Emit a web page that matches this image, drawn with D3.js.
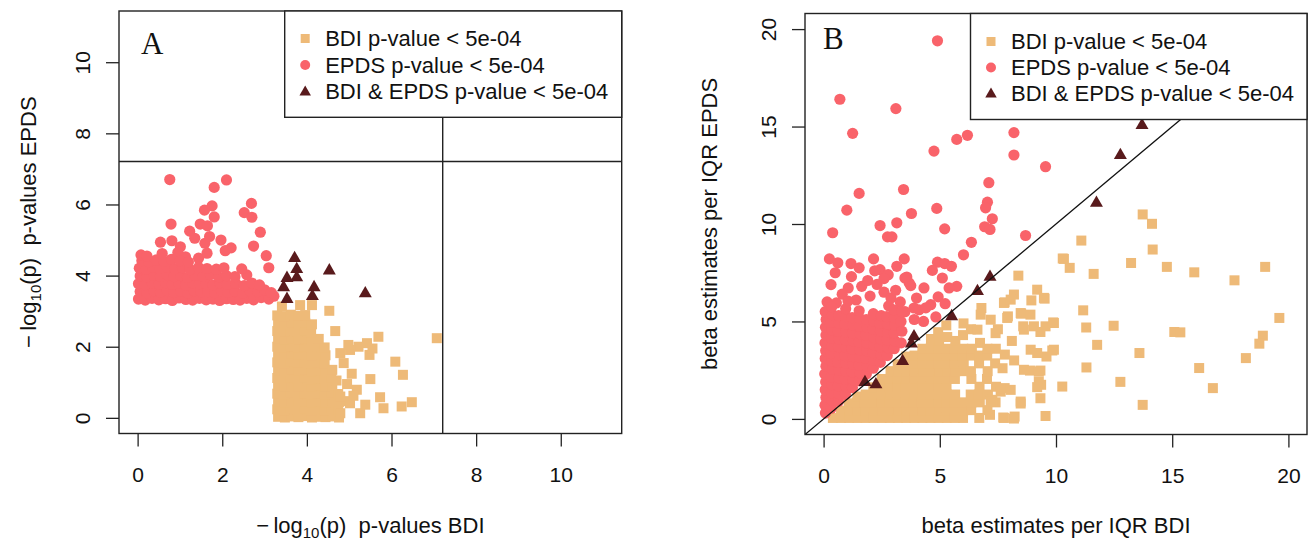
<!DOCTYPE html>
<html><head><meta charset="utf-8">
<script src="https://cdn.jsdelivr.net/npm/d3@7"></script>
<style>
body{margin:0;background:#fff}
svg{display:block}
text{fill:#111}
</style>
</head><body>
<svg id="c" width="1309" height="540"></svg>
<script>
// ---------- DATA ----------
const legendLabels = ["BDI p-value < 5e-04", "EPDS p-value < 5e-04", "BDI & EPDS p-value < 5e-04"];
const ticksA = [0, 2, 4, 6, 8, 10];
const ticksB = [0, 5, 10, 15, 20];
const thresholdA = 7.21;

// Panel A: [-log10 p BDI, -log10 p EPDS]
const epdsA = [
[0.76,6.70],[2.10,6.69],[1.81,6.48],[2.69,6.03],[1.76,5.96],[1.58,5.84],[1.81,5.65],[2.52,5.77],[2.70,5.64],[1.48,5.45],
[0.79,5.45],[1.23,5.25],[2.90,5.22],[0.54,4.94],[0.81,4.98],[1.59,4.91],[1.97,5.00],[2.74,4.83],[2.21,4.78],[2.07,4.70],
[3.04,4.56],[1.44,4.49],[1.64,4.63],[3.10,4.22],[1.01,4.81],[1.13,4.53],[1.35,5.05],[1.65,5.40],[1.70,5.10],[0.95,4.65],
[0.02,3.34],[0.18,3.31],[0.34,3.36],[0.50,3.32],[0.66,3.35],[0.82,3.30],[0.98,3.37],[1.14,3.33],[1.30,3.31],[1.46,3.36],
[1.62,3.32],[1.78,3.34],[1.94,3.30],[2.10,3.35],[2.26,3.33],[2.42,3.31],[2.58,3.36],[2.74,3.32],[2.92,3.38],[3.10,3.34],[3.22,3.42],
[0.06,3.55],[0.22,3.52],[0.38,3.57],[0.54,3.54],[0.70,3.58],[0.86,3.53],[1.02,3.56],[1.18,3.51],[1.34,3.57],[1.50,3.54],
[1.66,3.55],[1.82,3.52],[1.98,3.58],[2.14,3.53],[2.30,3.56],[2.48,3.51],[2.66,3.57],[2.84,3.55],[3.00,3.60],[3.16,3.52],
[0.02,3.77],[0.18,3.74],[0.34,3.79],[0.50,3.76],[0.66,3.80],[0.82,3.75],[0.98,3.78],[1.14,3.73],[1.30,3.79],[1.46,3.76],
[1.62,3.77],[1.78,3.74],[1.94,3.80],[2.12,3.75],[2.32,3.78],[2.52,3.72],[2.70,3.79],[2.88,3.74],
[0.06,3.99],[0.22,3.96],[0.38,4.01],[0.54,3.98],[0.70,4.02],[0.86,3.97],[1.02,4.00],[1.18,3.95],[1.36,4.01],[1.54,3.98],
[1.72,4.03],[1.92,3.96],[2.10,4.00],[2.30,3.97],[2.58,4.02],
[0.04,4.21],[0.20,4.18],[0.36,4.23],[0.52,4.20],[0.70,4.24],[0.88,4.19],[1.06,4.22],[1.24,4.17],[1.44,4.23],[1.64,4.20],
[1.86,4.18],[2.04,4.22],[2.46,4.19],
[0.10,4.42],[0.26,4.39],[0.44,4.44],[0.62,4.40],[0.80,4.46],[1.00,4.41],[1.20,4.38],
[0.08,4.58],[0.22,4.55],[0.58,4.62]
];
const bdiA = [
[3.32,0.03],[3.48,0.01],[3.64,0.04],[3.80,0.02],[3.96,0.05],[4.12,0.01],[4.28,0.03],[4.44,0.02],[4.60,0.04],[4.76,0.01],
[3.30,0.24],[3.46,0.22],[3.62,0.26],[3.78,0.23],[3.94,0.25],[4.10,0.21],[4.26,0.24],[4.42,0.22],[4.58,0.26],[4.74,0.23],
[3.32,0.46],[3.48,0.44],[3.64,0.48],[3.80,0.45],[3.96,0.47],[4.12,0.43],[4.28,0.46],[4.44,0.44],[4.60,0.48],[4.76,0.45],[4.92,0.47],
[3.30,0.68],[3.46,0.66],[3.62,0.70],[3.78,0.67],[3.94,0.69],[4.10,0.65],[4.26,0.68],[4.42,0.66],[4.58,0.70],[4.74,0.67],
[3.32,0.90],[3.48,0.88],[3.64,0.92],[3.80,0.89],[3.96,0.91],[4.12,0.87],[4.28,0.90],[4.44,0.88],[4.60,0.92],
[3.30,1.12],[3.46,1.10],[3.62,1.14],[3.78,1.11],[3.94,1.13],[4.10,1.09],[4.26,1.12],[4.42,1.10],[4.58,1.14],
[3.32,1.34],[3.48,1.32],[3.64,1.36],[3.80,1.33],[3.96,1.35],[4.12,1.31],[4.28,1.34],[4.44,1.32],
[3.30,1.56],[3.46,1.54],[3.62,1.58],[3.78,1.55],[3.94,1.57],[4.10,1.53],[4.26,1.56],[4.42,1.54],
[3.32,1.78],[3.48,1.76],[3.64,1.80],[3.80,1.77],[3.96,1.79],[4.12,1.75],[4.28,1.78],[4.44,1.76],
[3.30,2.00],[3.46,1.98],[3.62,2.02],[3.78,1.99],[3.94,2.01],[4.10,1.97],[4.26,2.00],[4.42,1.98],
[3.32,2.22],[3.48,2.20],[3.64,2.24],[3.80,2.21],[3.96,2.23],[4.12,2.19],[4.28,2.22],
[3.30,2.44],[3.46,2.42],[3.62,2.46],[3.78,2.43],[3.94,2.45],[4.10,2.41],
[3.32,2.66],[3.48,2.64],[3.64,2.68],[3.80,2.65],[3.96,2.67],[4.12,2.63],
[3.30,2.88],[3.46,2.86],[3.62,2.90],[3.80,2.87],[3.96,2.89],
[7.07,2.24],[5.69,2.28],[6.09,1.58],[6.27,1.21],[5.50,1.09],[5.73,0.58],[5.81,0.27],[6.48,0.44],[6.24,0.32],[5.26,0.13],
[5.38,0.37],[5.06,1.24],[4.53,3.01],[4.67,2.44],[5.42,2.10],[5.22,2.00],[5.48,1.77],[4.79,1.82],[5.02,1.91],[4.87,1.54],
[5.18,0.79],[4.79,0.60],[5.02,0.41],[4.79,0.13],[3.41,3.13],[3.84,3.17],[4.12,3.17],[4.98,2.05],[5.55,1.95],[4.95,0.95],
[5.10,0.62],[4.60,1.35],[4.70,1.05]
];
const bothA = [
[3.71,4.51],[3.76,4.20],[3.76,3.97],[3.53,3.95],[3.45,3.69],[4.53,4.16],[4.17,3.69],[4.13,3.44],[3.53,3.36],[5.38,3.52]
];

// Panel B: [beta per IQR BDI, beta per IQR EPDS]
const epdsB = [
[4.90,19.40],[0.70,16.40],[3.11,15.92],[1.25,14.65],[4.75,13.74],[5.73,14.34],[6.19,14.55],[8.19,14.69],[8.19,13.54],[9.55,12.94],
[7.11,12.12],[3.44,11.77],[1.53,11.57],[7.05,11.12],[6.97,10.83],[1.00,10.71],[3.78,10.54],[4.87,10.80],[7.26,10.27],[3.15,10.06],
[2.43,9.92],[5.21,9.75],[2.75,9.34],[2.94,9.34],[6.93,9.86],[7.16,9.72],[0.39,9.55],[8.69,9.41],[6.36,9.06],[6.02,8.42],
[0.25,8.21],[0.61,8.01],[1.18,7.97],[1.53,7.75],[2.15,8.21],[2.43,7.66],[2.78,7.40],[3.15,7.83],[3.47,8.21],[3.58,7.28],
[3.68,6.98],[4.90,8.04],[5.21,7.97],[5.50,7.83],[4.68,7.62],[5.11,7.23],[5.73,6.80],[5.40,6.72],[4.32,6.72],[0.32,6.89],
[1.06,6.72],[1.64,6.80],[4.93,6.26],[5.23,5.91],[4.61,5.86],[3.89,5.69],[4.11,5.60],[4.83,5.23],[3.75,6.84],[3.50,7.23],
[1.90,7.10],[2.30,6.90],[2.60,6.50],[2.00,6.30],[1.40,6.10],[2.90,6.20],[3.30,6.00],[3.10,6.60],[0.80,6.40],[1.20,7.30],
[2.80,5.80],[3.50,5.50],[3.90,5.10],[4.30,5.00],[0.50,7.50],[2.20,7.60],[2.60,7.20],[4.00,6.20],[4.40,5.70],[0.15,6.00],[0.55,5.95],[1.05,6.05],
[0.08,0.30],[0.06,0.70],[0.10,1.10],[0.07,1.50],[0.09,1.90],[0.05,2.30],[0.10,2.70],[0.07,3.10],[0.09,3.50],[0.06,3.90],[0.10,4.30],[0.08,4.70],[0.11,5.10],[0.07,5.50],
[0.33,0.55],[0.37,0.95],[0.34,1.35],[0.36,1.75],[0.32,2.15],[0.38,2.55],[0.35,2.95],[0.33,3.35],[0.37,3.75],[0.34,4.15],[0.36,4.55],[0.32,4.95],[0.38,5.35],[0.35,5.75],
[0.64,0.90],[0.66,1.30],[0.63,1.70],[0.67,2.10],[0.65,2.50],[0.62,2.90],[0.68,3.30],[0.64,3.70],[0.66,4.10],[0.63,4.50],[0.67,4.90],[0.65,5.30],
[0.94,1.25],[0.97,1.65],[0.93,2.05],[0.96,2.45],[0.95,2.85],[0.92,3.25],[0.98,3.65],[0.94,4.05],[0.96,4.45],[0.93,4.85],[0.97,5.25],[0.95,5.65],
[1.24,1.60],[1.27,2.00],[1.23,2.40],[1.26,2.80],[1.25,3.20],[1.22,3.60],[1.28,4.00],[1.24,4.40],[1.26,4.80],[1.23,5.20],
[1.54,1.95],[1.57,2.35],[1.53,2.75],[1.56,3.15],[1.55,3.55],[1.52,3.95],[1.58,4.35],[1.54,4.75],[1.56,5.15],[1.53,5.55],
[1.84,2.30],[1.87,2.70],[1.83,3.10],[1.86,3.50],[1.85,3.90],[1.82,4.30],[1.88,4.70],[1.84,5.10],
[2.14,2.60],[2.17,3.00],[2.13,3.40],[2.16,3.80],[2.15,4.20],[2.12,4.60],[2.18,5.00],[2.14,5.40],
[2.44,2.90],[2.47,3.30],[2.43,3.70],[2.46,4.10],[2.45,4.50],[2.42,4.90],[2.48,5.30],
[2.74,3.25],[2.77,3.65],[2.73,4.05],[2.76,4.45],[2.75,4.85],[2.72,5.25],
[3.04,3.60],[3.07,4.00],[3.03,4.40],[3.06,4.80],[3.05,5.20],[3.02,5.60],
[3.34,3.90],[3.37,4.50],[3.33,5.00],[3.36,5.50]
];
const bdiB = [
[0.40,0.05],[0.75,0.05],[0.75,0.42],[1.10,0.05],[1.12,0.45],[1.08,0.80],
[1.45,0.05],[1.47,0.45],[1.43,0.85],[1.46,1.15],[1.80,0.05],[1.82,0.45],[1.78,0.85],[1.81,1.25],
[2.15,0.05],[2.17,0.45],[2.13,0.85],[2.16,1.25],[2.14,1.62],
[2.50,0.05],[2.52,0.45],[2.48,0.85],[2.51,1.25],[2.49,1.65],[2.50,2.05],
[2.85,0.05],[2.87,0.45],[2.83,0.85],[2.86,1.25],[2.84,1.65],[2.85,2.05],[2.88,2.45],
[3.20,0.05],[3.22,0.45],[3.18,0.85],[3.21,1.25],[3.19,1.65],[3.20,2.05],[3.23,2.45],[3.19,2.80],
[3.55,0.05],[3.57,0.45],[3.53,0.85],[3.56,1.25],[3.54,1.65],[3.55,2.05],[3.58,2.45],[3.54,2.85],[3.56,3.20],
[3.90,0.05],[3.92,0.45],[3.88,0.85],[3.91,1.25],[3.89,1.65],[3.90,2.05],[3.93,2.45],[3.89,2.85],[3.91,3.25],
[4.25,0.05],[4.27,0.45],[4.23,0.85],[4.26,1.25],[4.24,1.65],[4.25,2.05],[4.28,2.45],[4.24,2.85],[4.26,3.25],[4.25,3.60],
[4.60,0.05],[4.62,0.45],[4.58,0.85],[4.61,1.25],[4.59,1.65],[4.60,2.05],[4.63,2.45],[4.59,2.85],[4.61,3.25],[4.60,3.60],[4.62,4.10],
[4.95,0.05],[4.97,0.45],[4.93,0.85],[4.96,1.25],[4.94,1.65],[4.95,2.05],[4.98,2.45],[4.94,2.85],[4.96,3.25],[4.95,3.60],[4.97,4.00],[4.93,4.45],
[5.30,0.05],[5.32,0.45],[5.28,0.85],[5.31,1.25],[5.29,1.65],[5.30,2.05],[5.33,2.45],[5.29,2.85],[5.31,3.25],[5.30,3.60],[5.32,4.20],[5.28,4.80],
[5.65,0.05],[5.67,0.45],[5.63,0.85],[5.66,1.25],[5.65,2.05],[5.68,2.45],[5.64,2.85],[5.66,3.25],[5.65,3.60],[5.67,4.00],
[6.00,0.05],[6.02,0.45],[5.98,0.85],[6.00,2.45],[6.03,2.85],[5.99,3.25],[6.01,3.60],[6.00,4.30],[6.02,4.90],
[6.35,0.45],[6.37,0.85],[6.33,1.25],[6.36,2.05],[6.34,2.45],[6.35,3.25],[6.38,3.60],[6.34,4.60],
[6.70,0.05],[6.72,0.85],[6.68,1.25],[6.71,1.65],[6.69,2.85],[6.70,3.25],[6.73,3.90],
[7.05,0.45],[7.07,1.25],[7.03,2.05],[7.06,2.45],[7.04,3.25],[7.05,3.60],
[7.40,0.85],[7.42,1.65],[7.38,2.85],[7.41,3.60],[7.40,4.40],
[13.73,10.49],[14.13,10.01],[11.09,9.15],[14.16,8.69],[10.29,8.23],[10.59,7.75],[11.62,7.44],[13.23,8.00],[14.77,7.80],[15.95,7.52],
[17.68,7.11],[19.00,7.80],[19.61,5.18],[11.17,5.57],[11.30,4.69],[12.48,4.78],[15.09,4.46],[15.35,4.44],[18.90,4.27],[18.75,3.86],
[11.77,3.80],[13.59,3.38],[18.17,3.12],[11.31,2.64],[16.16,2.61],[12.77,1.90],[10.27,1.66],[16.75,1.58],[13.73,0.72],
[8.38,7.35],[9.55,4.75],[9.88,4.95],[9.33,4.46],[9.19,6.63],[9.51,6.17],[8.94,6.08],[8.19,6.38],[7.79,5.98],[6.79,5.69],
[7.93,5.26],[8.50,5.40],[8.90,5.35],[8.59,4.75],[9.05,4.75],[9.84,3.51],[9.59,3.20],[8.88,2.48],[9.33,2.48],[9.26,1.92],
[9.36,1.75],[9.33,1.06],[8.48,0.89],[9.55,0.15],[8.22,0.12],[7.73,0.07],[7.16,0.21],[7.62,1.40],[7.79,1.58],[7.26,0.98],
[7.76,5.95],[8.05,6.12],[8.48,5.43],[9.48,6.21],[9.91,4.92],[7.90,5.18],[8.62,4.58],[6.76,5.35],[7.19,5.09],[6.62,4.58],
[8.91,3.55],[9.19,3.38],[9.91,3.55],[8.62,2.52],[9.26,2.43],[8.05,1.49],[8.48,0.79],[9.19,1.63],[7.19,0.87],[7.76,0.05],
[8.19,0.02],[7.80,3.30],[8.20,3.00],[7.70,2.60],[8.10,4.00],[7.50,4.60],[10.34,8.21]
];
const bothB = [
[1.78,1.92],[2.25,1.80],[3.40,3.00],[3.78,3.89],[3.89,4.27],[5.51,5.30],[6.62,6.59],[7.16,7.32],[11.74,11.12],[12.77,13.57],[13.70,15.10]
];

// ---------- STYLE ----------
const COL_BDI = "#EEBA78", COL_EPDS = "#F9636A", COL_BOTH = "#591A1C";
const SANS = '"Liberation Sans", Arial, Helvetica, sans-serif';
const SERIF = '"Liberation Serif", "Times New Roman", serif';
const FS = 22, TFS = 21;
const svg = d3.select("#c");

function drawSquares(g, data, x, y, s) {
  g.selectAll(null).data(data).enter().append("rect")
    .attr("x", d => x(d[0]) - s/2).attr("y", d => y(d[1]) - s/2)
    .attr("width", s).attr("height", s).attr("fill", COL_BDI);
}
function drawCircles(g, data, x, y, r) {
  g.selectAll(null).data(data).enter().append("circle")
    .attr("cx", d => x(d[0])).attr("cy", d => y(d[1])).attr("r", r).attr("fill", COL_EPDS);
}
function triPath(w) { const h = w*0.87; return `M0,${-h*0.6}L${w/2},${h*0.4}L${-w/2},${h*0.4}Z`; }
function drawTriangles(g, data, x, y, w) {
  g.selectAll(null).data(data).enter().append("path")
    .attr("d", triPath(w))
    .attr("transform", d => `translate(${x(d[0])},${y(d[1])})`).attr("fill", COL_BOTH);
}

function panel(cfg) {
  const {box, dom, ticks} = cfg;
  const x = d3.scaleLinear().domain(dom).range([box.l, box.r]);
  const y = d3.scaleLinear().domain(dom).range([box.b, box.t]);
  const g = svg.append("g");

  const clipId = "clip" + cfg.id;
  svg.append("clipPath").attr("id", clipId).append("rect")
    .attr("x", box.l).attr("y", box.t).attr("width", box.r - box.l).attr("height", box.b - box.t);
  const pg = g.append("g").attr("clip-path", `url(#${clipId})`);
  drawSquares(pg, cfg.bdi, x, y, 10);
  drawCircles(pg, cfg.epds, x, y, 5.6);
  if (cfg.extra) cfg.extra(pg, x, y);
  drawTriangles(pg, cfg.both, x, y, 13);

  // axes
  const ax = g.append("g").attr("transform", `translate(0,${box.b})`)
    .call(d3.axisBottom(x).tickValues(ticks).tickSize(13).tickPadding(21).tickSizeOuter(0));
  ax.select(".domain").remove();
  ax.selectAll("text").attr("font-size", TFS).style("font-family", SANS).attr("fill", "#111");
  ax.selectAll("line").attr("stroke", "#222").attr("stroke-width", 1.3);

  const ay = g.append("g").attr("transform", `translate(${box.l},0)`)
    .call(d3.axisLeft(y).tickValues(ticks).tickSize(13).tickSizeOuter(0));
  ay.select(".domain").remove();
  ay.selectAll("line").attr("stroke", "#222").attr("stroke-width", 1.3);
  ay.selectAll("text").attr("x", null).attr("dy", null)
    .attr("transform", "translate(-37,0) rotate(-90)")
    .attr("text-anchor", "middle").attr("dominant-baseline", "central")
    .attr("font-size", TFS).style("font-family", SANS).attr("fill", "#111");

  // box
  g.append("rect").attr("x", box.l).attr("y", box.t).attr("width", box.r - box.l).attr("height", box.b - box.t)
    .attr("fill", "none").attr("stroke", "#222").attr("stroke-width", 1.4);

  // legend
  const L = cfg.legend;
  g.append("rect").attr("x", L.l).attr("y", box.t).attr("width", box.r - L.l).attr("height", L.b - box.t)
    .attr("fill", "#fff").attr("stroke", "#222").attr("stroke-width", 1.4);
  const sx = L.l + 20.5, tx = L.l + 40.5;
  const rows = L.rows;
  g.append("rect").attr("x", sx - 4.5).attr("y", rows[0] - 4.5).attr("width", 9).attr("height", 9).attr("fill", COL_BDI);
  g.append("circle").attr("cx", sx).attr("cy", rows[1]).attr("r", 5).attr("fill", COL_EPDS);
  g.append("path").attr("d", triPath(11.5)).attr("transform", `translate(${sx},${rows[2]})`).attr("fill", COL_BOTH);
  legendLabels.forEach((t, i) => {
    g.append("text").attr("x", tx).attr("y", rows[i]).attr("dy", "0.36em")
      .attr("font-size", FS).style("font-family", SANS).text(t);
  });

  // panel letter
  g.append("text").attr("x", cfg.letter.x).attr("y", cfg.letter.y)
    .style("font-family", SERIF).attr("font-size", 31).text(cfg.letter.t);

  // titles
  const cx = (box.l + box.r) / 2, cy = (box.t + box.b) / 2;
  const xt = g.append("text").attr("x", cx).attr("y", 525).attr("dy", "0.36em")
    .attr("text-anchor", "middle").attr("font-size", FS).style("font-family", SANS);
  cfg.xTitle(xt);
  const yt = g.append("text").attr("transform", `translate(${cfg.yTitleX},${cy}) rotate(-90)`)
    .attr("text-anchor", "middle").attr("dy", "0.36em").attr("font-size", FS).style("font-family", SANS);
  cfg.yTitle(yt);
  return {x, y, g};
}

function logTitle(t, rest) {
  t.append("tspan").text("\u2212\u2009log");
  t.append("tspan").attr("font-size", 15).attr("dy", 5).text("10");
  t.append("tspan").attr("dy", -5).text("(p)\u00A0\u00A0" + rest);
}

// Panel A
panel({
  id: "A",
  box: {l: 119, r: 621.7, t: 11, b: 433.5},
  dom: [-0.44, 11.44], ticks: ticksA,
  bdi: bdiA, epds: epdsA, both: bothA,
  extra: (pg, x, y) => {
    pg.append("line").attr("x1", x(thresholdA)).attr("x2", x(thresholdA)).attr("y1", y(-0.44)).attr("y2", y(11.44))
      .attr("stroke", "#222").attr("stroke-width", 1.4);
    pg.append("line").attr("x1", x(-0.44)).attr("x2", x(11.44)).attr("y1", y(thresholdA)).attr("y2", y(thresholdA))
      .attr("stroke", "#222").attr("stroke-width", 1.4);
  },
  legend: {l: 284.7, b: 117.3, rows: [38.5, 65, 91.5]},
  letter: {t: "A", x: 141, y: 54},
  xTitle: t => logTitle(t, "p-values BDI"),
  yTitleX: 28,
  yTitle: t => logTitle(t, "p-values EPDS")
});

// Panel B
panel({
  id: "B",
  box: {l: 805, r: 1307, t: 13.5, b: 434.5},
  dom: [-0.8, 20.8], ticks: ticksB,
  bdi: bdiB, epds: epdsB, both: [],
  extra: (pg, x, y) => {
    drawTriangles(pg, bothB, x, y, 13);
    pg.append("line").attr("x1", x(-0.8)).attr("y1", y(-0.8)).attr("x2", x(20.8)).attr("y2", y(20.8))
      .attr("stroke", "#111").attr("stroke-width", 1.3);
  },
  legend: {l: 970.5, b: 119.5, rows: [41.5, 67.5, 93.5]},
  letter: {t: "B", x: 823, y: 49},
  xTitle: t => t.text("beta estimates per IQR BDI"),
  yTitleX: 709,
  yTitle: t => t.text("beta estimates per IQR EPDS")
});
</script>
</body></html>
